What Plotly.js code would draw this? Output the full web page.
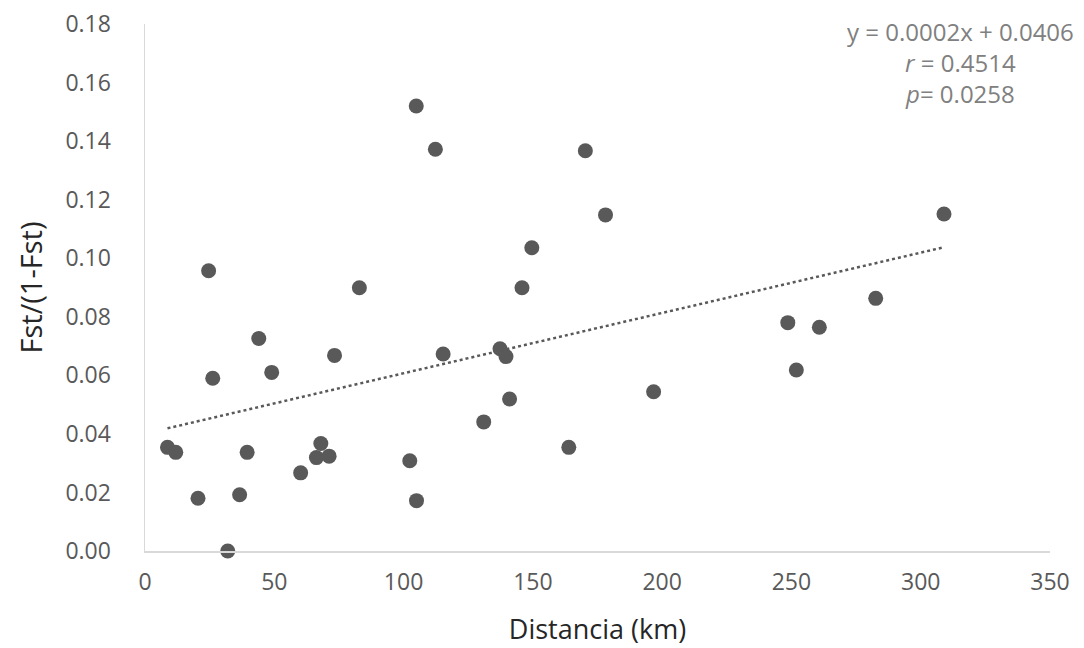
<!DOCTYPE html>
<html>
<head>
<meta charset="utf-8">
<script src="https://cdn.plot.ly/plotly-3.0.1.min.js"></script>
<style>html,body{margin:0;padding:0;background:#fff;}#chart{width:1084px;height:648px;}</style>
</head>
<body>
<div id="chart"></div>
<script>
// Distance (km) between population pairs
const distanceKm = [8.7, 11.9, 20.5, 24.6, 26.2, 32.0, 36.6, 39.5, 44.0, 49.0,
  60.2, 66.3, 68.0, 71.2, 73.3, 82.9, 102.4, 104.9, 105.0, 112.3,
  115.3, 131.0, 137.3, 139.6, 141.0, 145.8, 149.6, 163.9, 170.3, 178.1,
  196.7, 248.6, 251.9, 260.8, 282.6, 309.0];
// Genetic differentiation Fst/(1-Fst)
const fstRatio = [0.0354, 0.0337, 0.0180, 0.0957, 0.0590, 0.0000, 0.0192, 0.0337, 0.0726, 0.0610,
  0.0267, 0.0319, 0.0367, 0.0324, 0.0668, 0.0899, 0.0308, 0.1520, 0.0172, 0.1372,
  0.0673, 0.0441, 0.0691, 0.0664, 0.0519, 0.0899, 0.1036, 0.0354, 0.1367, 0.1148,
  0.0544, 0.0780, 0.0618, 0.0764, 0.0863, 0.1151];
const statLines = ["y = 0.0002x + 0.0406", "<i>r</i> = 0.4514", "<i>p</i>= 0.0258"];

// least-squares linear trend computed from the data
const n = distanceKm.length;
const mx = distanceKm.reduce((a,b)=>a+b,0)/n;
const my = fstRatio.reduce((a,b)=>a+b,0)/n;
let sxy = 0, sxx = 0;
for (let i=0;i<n;i++){ sxy += (distanceKm[i]-mx)*(fstRatio[i]-my); sxx += (distanceKm[i]-mx)**2; }
const slope = sxy/sxx, icpt = my - slope*mx;
const xMin = Math.min(...distanceKm), xMax = Math.max(...distanceKm);
const trendX = [xMin, xMax];
const trendY = trendX.map(v => icpt + slope*v);

const font = "'Open Sans', 'Noto Sans', sans-serif";

const data = [
  {x: distanceKm, y: fstRatio, type: 'scatter', mode: 'markers',
   marker: {color: '#595959', size: 15, line: {width: 0}}, hoverinfo: 'x+y', cliponaxis: false},
  {x: trendX, y: trendY, type: 'scatter', mode: 'lines',
   line: {color: '#595959', width: 2.5, dash: 'dot'}, hoverinfo: 'skip'}
];

const layout = {
  width: 1084, height: 648,
  margin: {l: 145, r: 34, t: 24, b: 97},
  paper_bgcolor: '#fff', plot_bgcolor: '#fff',
  showlegend: false,
  font: {family: font, color: '#595959', size: 23},
  xaxis: {
    range: [0, 350], dtick: 50, tick0: 0,
    showgrid: false, zeroline: false,
    showline: true, linecolor: '#d9d9d9', linewidth: 1.5,
    ticks: '', ticklabelstandoff: 10,
    tickfont: {family: font, size: 23, color: '#595959'},
    title: {text: 'Distancia (km)', font: {family: font, size: 27, color: '#262626'}, standoff: 24}
  },
  yaxis: {
    range: [0, 0.18], dtick: 0.02, tick0: 0, tickformat: '.2f',
    showgrid: false, zeroline: false,
    showline: true, linecolor: '#d9d9d9', linewidth: 1.5,
    ticks: '', ticklabelstandoff: 28,
    tickfont: {family: font, size: 23, color: '#595959'},
    title: {text: 'Fst/(1-Fst)', font: {family: font, size: 29, color: '#262626'}, standoff: 14}
  },
  annotations: [{
    xref: 'paper', yref: 'paper',
    x: (960-145)/(1084-145-34), y: 1.02,
    xanchor: 'center', yanchor: 'top', align: 'center',
    text: statLines.join('<br>'), showarrow: false,
    font: {family: font, size: 24, color: '#808080'}
  }]
};

Plotly.newPlot('chart', data, layout, {displayModeBar: false, staticPlot: true});
</script>
</body>
</html>
